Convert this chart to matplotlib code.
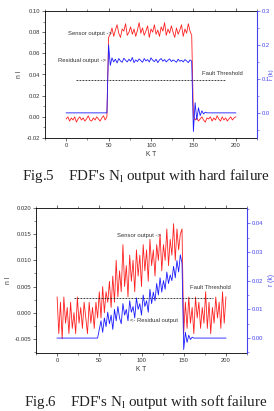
import matplotlib
matplotlib.use("Agg")
import matplotlib.pyplot as plt
from matplotlib.ticker import MultipleLocator, FormatStrFormatter

plt.rcParams['font.family'] = ['Liberation Sans', 'DejaVu Sans']
plt.rcParams['mathtext.fontset'] = 'custom'
plt.rcParams['mathtext.rm'] = 'Liberation Serif'

# ---------------- data ----------------
kt = list(range(0, 201, 2))

# Fig.5  hard failure
hard_sensor = [
    -0.002, 0.000, -0.004, -0.001, -0.003, 0.000, -0.005, -0.002, 0.000, -0.003,
    -0.001, -0.004, -0.002, 0.001, -0.003, -0.004, -0.001, -0.003, 0.000, -0.002,
    -0.004, -0.001, 0.001, -0.003, 0.000,
    0.075, 0.078, 0.084, 0.076, 0.082, 0.087, 0.079, 0.075, 0.083, 0.081,
    0.088, 0.077, 0.080, 0.085, 0.078, 0.083, 0.076, 0.082, 0.089, 0.079,
    0.084, 0.077, 0.081, 0.086, 0.075, 0.083, 0.080, 0.087, 0.078, 0.082,
    0.076, 0.085, 0.081, 0.089, 0.077, 0.083, 0.079, 0.086, 0.080, 0.075,
    0.084, 0.078, 0.082, 0.087, 0.076, 0.083, 0.079, 0.088, 0.081, 0.077,
    0.001, -0.003, -0.001, -0.004, -0.002, 0.000, -0.003, -0.005, -0.001, -0.002,
    0.000, -0.004, -0.001, -0.003, 0.001, -0.002, -0.004, 0.000, -0.003, -0.001,
    -0.004, -0.002, 0.000, -0.003, -0.001, 0.000,
]
hard_residual = [
    0.0, 0.0, 0.0, 0.0, 0.0, 0.0, 0.0, 0.0, 0.0, 0.0,
    0.0, 0.0, 0.0, 0.0, 0.0, 0.0, 0.0, 0.0, 0.0, 0.0,
    0.0, 0.0, 0.0, 0.0, 0.0,
    0.200, 0.140, 0.162, 0.150, 0.158, 0.147, 0.160, 0.153, 0.149, 0.161,
    0.155, 0.150, 0.158, 0.152, 0.163, 0.148, 0.156, 0.151, 0.159, 0.154,
    0.149, 0.160, 0.153, 0.157, 0.150, 0.162, 0.155, 0.151, 0.158, 0.148,
    0.156, 0.160, 0.152, 0.157, 0.150, 0.155, 0.159, 0.151, 0.156, 0.153,
    0.149, 0.158, 0.152, 0.155, 0.150, 0.157, 0.153, 0.148, 0.156, 0.152,
    -0.055, 0.030, -0.020, 0.015, -0.008, 0.006, -0.003, 0.002, 0.0, 0.0,
    0.0, 0.0, 0.0, 0.0, 0.0, 0.0, 0.0, 0.0, 0.0, 0.0,
    0.0, 0.0, 0.0, 0.0, 0.0, 0.0,
]
hard_threshold = 0.035
hard_threshold_span = [12, 189]

# Fig.6  soft failure
soft_sensor = [
    0.003, -0.004, 0.002, -0.005, 0.003, -0.002, 0.001, -0.004, 0.002, -0.003,
    0.000, -0.004, 0.003, -0.002, 0.001, -0.003, 0.002, -0.001, -0.004, 0.002,
    -0.002, 0.001, -0.003, 0.002, -0.001,
    0.004, -0.001, 0.005, 0.000, 0.004, 0.002, 0.006, 0.001, 0.007, 0.002,
    0.010, 0.003, 0.008, 0.004, 0.013, 0.005, 0.009, 0.003, 0.011, 0.006,
    0.010, 0.004, 0.012, 0.007, 0.011, 0.005, 0.013, 0.008, 0.012, 0.006,
    0.014, 0.009, 0.012, 0.007, 0.013, 0.010, 0.015, 0.008, 0.013, 0.010,
    0.016, 0.009, 0.014, 0.011, 0.017, 0.010, 0.016, 0.012, 0.015, 0.016,
    -0.004, 0.002, -0.003, 0.003, -0.002, 0.001, -0.004, 0.003, -0.001, 0.002,
    -0.003, 0.001, -0.002, 0.004, -0.003, 0.002, -0.004, 0.001, -0.002, 0.003,
    -0.001, 0.002, -0.003, 0.004, -0.002, 0.003,
]
soft_residual = [
    0.0, 0.0, 0.0, 0.0, 0.0, 0.0, 0.0, 0.0, 0.0, 0.0,
    0.0, 0.0, 0.0, 0.0, 0.0, 0.0, 0.0, 0.0, 0.0, 0.0,
    0.0, 0.0, 0.0, 0.0, 0.0,
    0.003, 0.006, 0.002, 0.007, 0.004, 0.009, 0.005, 0.008, 0.003, 0.010,
    0.006, 0.011, 0.007, 0.005, 0.012, 0.008, 0.010, 0.006, 0.013, 0.009,
    0.011, 0.007, 0.014, 0.010, 0.012, 0.008, 0.015, 0.011, 0.013, 0.009,
    0.017, 0.012, 0.016, 0.013, 0.019, 0.015, 0.021, 0.016, 0.020, 0.017,
    0.023, 0.019, 0.022, 0.020, 0.025, 0.021, 0.027, 0.023, 0.029, 0.026,
    -0.004, 0.002, -0.0015, 0.001, -0.0005, 0.0003, 0.0, 0.0, 0.0, 0.0,
    0.0, 0.0, 0.0, 0.0, 0.0, 0.0, 0.0, 0.0, 0.0, 0.0,
    0.0, 0.0, 0.0, 0.0, 0.0, 0.0,
]
soft_threshold = 0.0028
soft_threshold_span = [20, 185]

caption5 = r"Fig.5    FDF's N$_\mathregular{l}$ output with hard failure"
caption6 = r"Fig.6    FDF's N$_\mathregular{l}$ output with soft failure"

# ---------------- drawing ----------------
W, H = 274, 411
fig = plt.figure(figsize=(W / 100, H / 100), dpi=100)

RED = '#ff2020'
BLUE = '#1a1aff'
AXBLUE = '#4444ee'
FS = 4.2


def style_axes(ax, axr, xmaj, xmin, ymaj, ymin, rmaj, rmin):
    ax.set_xlim(-25, 225)
    ax.xaxis.set_major_locator(MultipleLocator(xmaj))
    ax.xaxis.set_minor_locator(MultipleLocator(xmin))
    ax.yaxis.set_major_locator(MultipleLocator(ymaj))
    ax.yaxis.set_minor_locator(MultipleLocator(ymin))
    ax.tick_params(axis='both', which='major', labelsize=FS, length=2.0,
                   width=0.5, pad=1.5, colors='#333333')
    ax.tick_params(axis='both', which='minor', length=1.2, width=0.4,
                   colors='#333333')
    ax.tick_params(axis='x', which='both', top=True, direction='out')
    ax.tick_params(axis='y', which='both', direction='out')
    ax.xaxis.set_ticks_position('both')
    for s in ['left', 'bottom', 'top']:
        ax.spines[s].set_linewidth(0.6)
    ax.spines['right'].set_visible(False)
    axr.yaxis.set_major_locator(MultipleLocator(rmaj))
    axr.yaxis.set_minor_locator(MultipleLocator(rmin))
    axr.tick_params(axis='y', which='major', labelsize=FS, length=2.0,
                    width=0.5, pad=1.5, colors=AXBLUE)
    axr.tick_params(axis='y', which='minor', length=1.2, width=0.4,
                    colors=AXBLUE)
    axr.spines['right'].set_color(AXBLUE)
    axr.spines['right'].set_linewidth(0.8)
    for s in ['left', 'bottom', 'top']:
        axr.spines[s].set_visible(False)


# ---- Fig.5 ----
ax1 = fig.add_axes([45 / W, 1 - 138 / H, 212 / W, 127 / H])
ax1r = ax1.twinx()
ax1.plot(kt, hard_sensor, color=RED, lw=0.6)
ax1r.plot(kt, hard_residual, color=BLUE, lw=0.6)
ax1.plot(hard_threshold_span, [hard_threshold, hard_threshold], color='#222222',
         lw=0.6, ls=(0, (2.2, 1.4)))
ax1.set_ylim(-0.02, 0.10)
ax1r.set_ylim(-0.074, 0.30)
style_axes(ax1, ax1r, 50, 25, 0.02, 0.01, 0.1, 0.05)
ax1.yaxis.set_major_formatter(FormatStrFormatter('%.2f'))
ax1r.yaxis.set_major_formatter(FormatStrFormatter('%.1f'))
ax1.set_xticks([0, 50, 100, 150, 200])
ax1.set_xlabel('K T', fontsize=FS + 0.6, labelpad=2, color='#333333')
ax1.set_ylabel('n l', fontsize=FS + 0.6, labelpad=3, color='#333333')
ax1r.set_ylabel('r (k)', fontsize=FS, color=AXBLUE, va='center')
ax1r.yaxis.set_label_coords(1.068, 0.5)
ax1.text(53.5, 0.0792, 'Sensor output ->', fontsize=FS, ha='right',
         va='center', color='#333333')
ax1.text(47, 0.0528, 'Residual output ->', fontsize=FS, ha='right',
         va='center', color='#333333')
ax1.text(160, 0.0414, 'Fault Threshold', fontsize=FS, ha='left',
         va='center', color='#333333')

# ---- Fig.6 ----
ax2 = fig.add_axes([36 / W, 1 - 353 / H, 211 / W, 145 / H])
ax2r = ax2.twinx()
ax2.plot(kt, soft_sensor, color=RED, lw=0.6)
ax2r.plot(kt, soft_residual, color=BLUE, lw=0.6)
ax2.plot(soft_threshold_span, [soft_threshold, soft_threshold], color='#222222',
         lw=0.6, ls=(0, (2.2, 1.4)))
ax2.set_ylim(-0.0077, 0.020)
ax2r.set_ylim(-0.0052, 0.0453)
style_axes(ax2, ax2r, 50, 25, 0.005, 0.0025, 0.01, 0.005)
ax2.yaxis.set_major_formatter(FormatStrFormatter('%.3f'))
ax2r.yaxis.set_major_formatter(FormatStrFormatter('%.2f'))
ax2.set_xticks([0, 50, 100, 150, 200])
ax2.set_xlabel('K T', fontsize=FS + 0.6, labelpad=2, color='#333333')
ax2.set_ylabel('n l', fontsize=FS + 0.6, labelpad=2, color='#333333')
ax2r.set_ylabel('r (k)', fontsize=FS + 0.6, labelpad=3, color=AXBLUE)
ax2.text(71, 0.0148, 'Sensor output ->', fontsize=FS, ha='left',
         va='center', color='#333333')
ax2.text(86, -0.0015, '<- Residual output', fontsize=FS, ha='left',
         va='center', color='#333333')
ax2.text(157, 0.0048, 'Fault Threshold', fontsize=FS, ha='left',
         va='center', color='#333333')

# ---- captions ----
fig.text(146 / W, 1 - 176 / H, caption5, fontsize=10.8,
         family='Liberation Serif', ha='center', va='center', color='#222222')
fig.text(146 / W, 1 - 402 / H, caption6, fontsize=10.8,
         family='Liberation Serif', ha='center', va='center', color='#222222')

fig.savefig('out.png', dpi=100)
